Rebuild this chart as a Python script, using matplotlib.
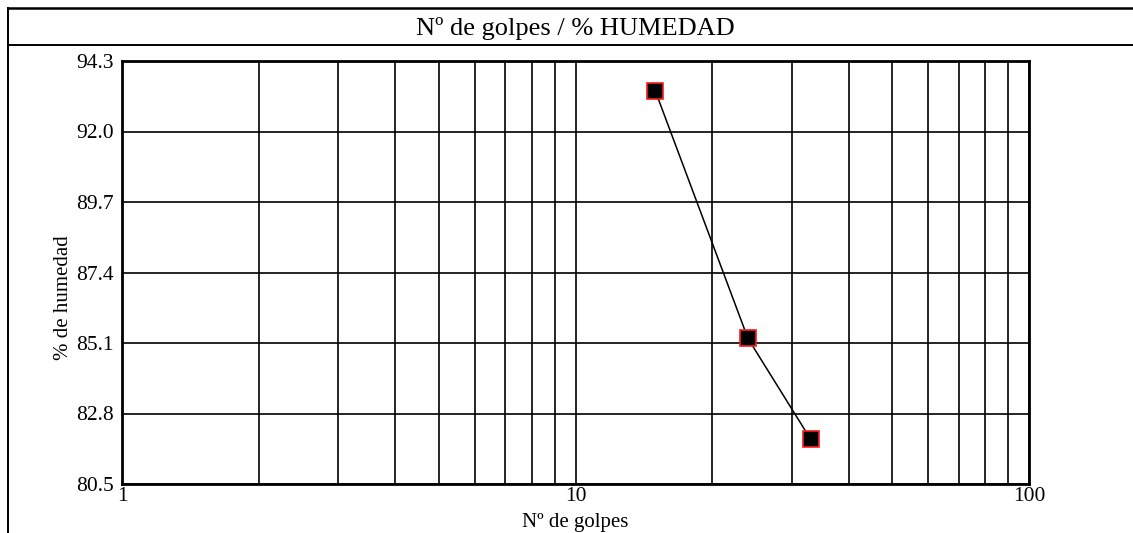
import matplotlib
matplotlib.use("Agg")
import matplotlib.pyplot as plt
from matplotlib.lines import Line2D
from matplotlib.ticker import FixedLocator, NullFormatter, FixedFormatter
import numpy as np

golpes = [15, 24, 33]
humedad = [93.32, 85.25, 81.96]
y_ticks = [80.5, 82.8, 85.1, 87.4, 89.7, 92.0, 94.3]
x_major = [1, 10, 100]
x_minor = [2, 3, 4, 5, 6, 7, 8, 9, 20, 30, 40, 50, 60, 70, 80, 90]
title = "Nº de golpes / % HUMEDAD"
xlabel = "Nº de golpes"
ylabel = "% de humedad"

plt.rcParams['font.family'] = ['Liberation Serif', 'DejaVu Serif']

W, H = 1133, 533
fig = plt.figure(figsize=(W / 100, H / 100), dpi=100)
ax = fig.add_axes([122 / W, 1 - 484 / H, (1029 - 122) / W, (484 - 61) / H])

ax.plot(golpes, humedad, color='black', lw=1.1, marker='s', markersize=11.5,
        markerfacecolor='black', markeredgecolor='#ff1a1a', markeredgewidth=1.2, zorder=5)

ax.set_xscale('log')
ax.set_xlim(1, 100)
ax.set_ylim(80.5, 94.3)
ax.xaxis.set_major_locator(FixedLocator(x_major))
ax.xaxis.set_major_formatter(FixedFormatter([str(v) for v in x_major]))
ax.xaxis.set_minor_locator(FixedLocator(x_minor))
ax.xaxis.set_minor_formatter(NullFormatter())
ax.set_yticks(y_ticks)
ax.set_yticklabels([f"{v:.1f}" for v in y_ticks])
ax.grid(True, which='both', axis='x', color='black', lw=1.2)
ax.grid(True, which='major', axis='y', color='black', lw=1.2)
ax.tick_params(which='both', length=0, labelsize=15.5)
ax.tick_params(axis='x', pad=2)
ax.tick_params(axis='y', pad=6)
for s in ax.spines.values():
    s.set_linewidth(2.0)
    s.set_color('black')

ax.set_xlabel(xlabel, fontsize=15)
ax.xaxis.set_label_coords(0.5, -(522 - 484) / 423, transform=ax.transAxes)
ax.xaxis.label.set_va('center')
ax.set_ylabel(ylabel, fontsize=15)
ax.yaxis.set_label_coords(-(122 - 64) / 907, 1 - (298 - 61) / 423, transform=ax.transAxes)
ax.yaxis.label.set_va('center')

fig.text(575 / W, 1 - 29 / H, title, ha='center', va='center', fontsize=19)

# outer frame
fig.add_artist(Line2D([8 / W, 1], [1 - 8 / H, 1 - 8 / H], transform=fig.transFigure, color='black', lw=1.8))
fig.add_artist(Line2D([8 / W, 1], [1 - 45 / H, 1 - 45 / H], transform=fig.transFigure, color='black', lw=1.4))
fig.add_artist(Line2D([8 / W, 8 / W], [1 - 8 / H, 0], transform=fig.transFigure, color='black', lw=1.4))

fig.savefig("out.png", dpi=100)
